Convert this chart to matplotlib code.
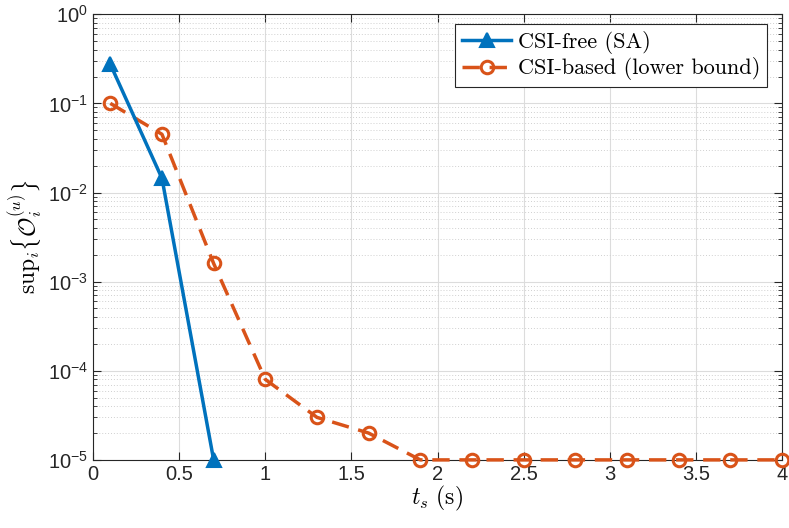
import matplotlib
matplotlib.use("Agg")
import matplotlib.pyplot as plt
from matplotlib.ticker import LogLocator, FixedLocator, NullFormatter

plt.rcParams['mathtext.fontset'] = 'cm'
plt.rcParams['font.family'] = ['Liberation Sans', 'DejaVu Sans']

x_free = [0.1, 0.4, 0.7]
y_free = [0.275, 0.0144, 1e-5]
x_based = [0.1, 0.4, 0.7, 1.0, 1.3, 1.6, 1.9, 2.2, 2.5, 2.8, 3.1, 3.4, 3.7, 4.0]
y_based = [0.1, 0.045, 0.0016, 8e-5, 3e-5, 2e-5, 1e-5, 1e-5, 1e-5, 1e-5, 1e-5, 1e-5, 1e-5, 1e-5]
x_ticks = [0, 0.5, 1, 1.5, 2, 2.5, 3, 3.5, 4]
x_ticklabels = ['0', '0.5', '1', '1.5', '2', '2.5', '3', '3.5', '4']
labels = ['CSI-free (SA)', 'CSI-based (lower bound)']

blue = '#0072BD'
orange = '#D95319'

fig = plt.figure(figsize=(7.89, 5.28), dpi=100)
ax = fig.add_axes([0.118, 0.129, 0.873, 0.844])

ax.plot(x_free, y_free, '-', color=blue, lw=2.5, marker='^', ms=10,
        mfc=blue, mec=blue, mew=1.5, label=labels[0], clip_on=False, zorder=4)
ax.plot(x_based, y_based, '--', color=orange, lw=2.5, marker='o', ms=9,
        mfc='none', mec=orange, mew=2.2, dashes=(5, 2.8), label=labels[1],
        clip_on=False, zorder=3)

ax.set_yscale('log')
ax.set_xlim(0, 4)
ax.set_ylim(1e-5, 1)
ax.xaxis.set_major_locator(FixedLocator(x_ticks))
ax.set_xticklabels(x_ticklabels)
ax.yaxis.set_major_locator(LogLocator(base=10, numticks=10))
ax.yaxis.set_minor_locator(LogLocator(base=10, subs=range(2, 10), numticks=20))
ax.yaxis.set_minor_formatter(NullFormatter())

ax.grid(True, which='major', color='#dcdcdc', lw=0.8, ls='-')
ax.grid(True, which='minor', axis='y', color='#d0d0d0', lw=0.7, ls=(0, (1, 2)))
ax.set_axisbelow(True)

ax.tick_params(which='both', direction='in', top=True, right=True, color='#262626')
ax.tick_params(which='major', length=6, labelsize=14.5, labelcolor='#262626', width=0.8)
ax.tick_params(which='minor', length=3, width=0.6)
for s in ax.spines.values():
    s.set_color('#262626')
    s.set_linewidth(0.8)

ax.set_xlabel(r'$t_s\ \mathrm{(s)}$', fontsize=17, labelpad=0)
ax.set_ylabel(r'$\mathrm{sup}_i\{\mathcal{O}_i^{(u)}\}$', fontsize=17, labelpad=2)

leg = ax.legend(loc='upper right', bbox_to_anchor=(0.994, 1.002),
                prop={'family': 'cmr10', 'size': 16}, fancybox=False,
                edgecolor='#262626', framealpha=1, borderpad=0.3,
                handlelength=2.2, handletextpad=0.3, labelspacing=0.15)
leg.get_frame().set_linewidth(0.8)

fig.savefig('out.png', dpi=100)
